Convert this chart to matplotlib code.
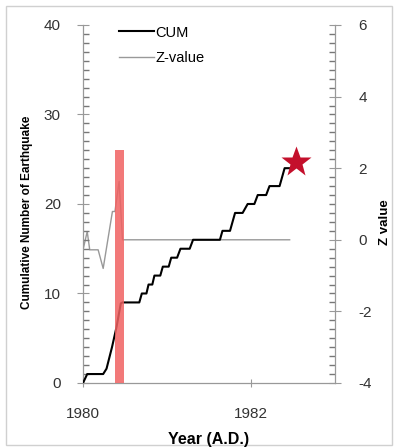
import numpy as np
import matplotlib
matplotlib.use("Agg")
import matplotlib.pyplot as plt
from matplotlib.lines import Line2D
from matplotlib.patches import Rectangle
from matplotlib.ticker import MultipleLocator

plt.rcParams['font.family'] = ['Liberation Sans', 'DejaVu Sans']
plt.rcParams['axes.unicode_minus'] = False

# cumulative number of earthquakes (polyline vertices)
cum_year = [1980.00, 1980.05, 1980.24, 1980.28, 1980.345, 1980.40, 1980.45, 1980.47,
            1980.67, 1980.70, 1980.755, 1980.78, 1980.825, 1980.85, 1980.92, 1980.95,
            1981.02, 1981.05, 1981.12, 1981.16, 1981.27, 1981.31,
            1981.63, 1981.66, 1981.75, 1981.81, 1981.90, 1981.96, 1982.04, 1982.08,
            1982.18, 1982.22, 1982.34, 1982.40, 1982.46]
cum_count = [0, 1, 1, 1.6, 4, 6.3, 8.9, 9,
             9, 10, 10, 11, 11, 12, 12, 13,
             13, 14, 14, 15, 15, 16,
             16, 17, 17, 19, 19, 20, 20, 21,
             21, 22, 22, 24, 24]

# Z-value
z_year = [1980.00, 1980.05, 1980.08, 1980.18, 1980.24, 1980.35, 1980.38, 1980.43, 1980.47, 1982.46]
z_val = [-0.28, 0.23, -0.28, -0.28, -0.8, 0.79, 0.79, 1.63, 0.0, 0.0]

# highlighted window and mainshock
band_year = 1980.385
band_width = 0.105
band_height = 26
star_year = 1982.54
star_count = 24.7

fig = plt.figure(figsize=(3.94, 4.47), dpi=100)
ax = fig.add_axes([0.2107, 0.1432, 0.6396, 0.8009])
ax2 = ax.twinx()

ax2.plot(z_year, z_val, color='#999999', lw=1.0)
ax.plot(cum_year, cum_count, color='black', lw=1.5, zorder=3)
ax.bar(band_year, band_height, width=band_width, align='edge',
       color='#f06262', alpha=0.85, zorder=4)
ax.plot(star_year, star_count, marker='*', ms=23, color='#c4102c', mec='none', zorder=5)

ax.set_zorder(ax2.get_zorder() + 1)
ax.patch.set_visible(False)

ax.set_xlim(1980, 1983)
ax.set_ylim(0, 40)
ax2.set_ylim(-4, 6)

sc = '#999999'
for a in (ax, ax2):
    a.spines['top'].set_visible(False)
    for s in ('left', 'right', 'bottom'):
        a.spines[s].set_color(sc)
        a.spines[s].set_linewidth(0.9)
ax.spines['right'].set_visible(False)
ax2.spines['left'].set_visible(False)
ax2.spines['bottom'].set_visible(False)

ax.set_xticks([1980, 1982])
ax.set_xticklabels(['1980', '1982'])
ax.yaxis.set_major_locator(MultipleLocator(10))
ax.yaxis.set_minor_locator(MultipleLocator(1))
ax2.yaxis.set_major_locator(MultipleLocator(2))
ax2.yaxis.set_minor_locator(MultipleLocator(0.25))

ax.tick_params(axis='y', which='major', direction='inout', length=8, color=sc,
               labelsize=11, labelcolor='#333333', pad=12)
ax.tick_params(axis='x', which='major', direction='inout', length=6, color=sc,
               labelsize=11, labelcolor='#333333', pad=14)
ax2.tick_params(axis='y', which='major', direction='inout', length=8, color=sc,
                labelsize=11, labelcolor='#333333', pad=13)
ax.tick_params(axis='y', which='minor', left=True, right=False, direction='in',
               length=4, width=1.0, color='#777777')
ax2.tick_params(axis='y', which='minor', right=True, left=False, direction='in',
                length=4, width=1.0, color='#777777')

ax.set_xlabel('Year (A.D.)', fontsize=11.5, fontweight='bold', labelpad=8)
ax.set_ylabel('Cumulative Number of Earthquake', fontsize=8.5, fontweight='bold')
ax.yaxis.set_label_coords(-0.2, 0.478)
ax2.set_ylabel('Z value', fontsize=9.5, fontweight='bold')
ax2.yaxis.set_label_coords(1.175, 0.45)

handles = [Line2D([], [], color='black', lw=1.5),
           Line2D([], [], color='#999999', lw=1.0)]
ax.legend(handles, ['CUM', 'Z-value'], loc='upper left', bbox_to_anchor=(0.09, 1.035),
          frameon=False, fontsize=10.5, handlelength=2.4, handletextpad=0.1,
          labelspacing=0.8)

fig.add_artist(Rectangle((6 / 394, 2 / 447), 386 / 394, 439 / 447,
                         transform=fig.transFigure, fill=False,
                         edgecolor='#d0d0d0', lw=1.0))

fig.savefig('out.png', dpi=100)
